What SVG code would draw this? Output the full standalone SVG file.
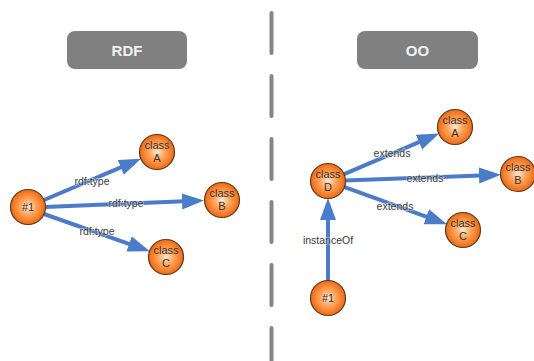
<svg xmlns="http://www.w3.org/2000/svg" width="534" height="361" viewBox="0 0 534 361">
  <defs>
    <radialGradient id="ball" cx="50%" cy="50%" r="50%">
      <stop offset="0" stop-color="#ffe8d0"/>
      <stop offset="0.45" stop-color="#ffa55c"/>
      <stop offset="1" stop-color="#f06810"/>
    </radialGradient>
    <marker id="head" markerUnits="userSpaceOnUse" markerWidth="24" markerHeight="18" refX="2" refY="8" orient="auto">
      <path d="M0,0 L22,8 L0,16 z" fill="#4a7cc9"/>
    </marker>
    <style>
      .title { fill: #808080; }
      .title-text { font-family: "Liberation Sans", Arial, sans-serif; font-size: 15px; fill: #f2f2f2; text-anchor: middle; font-weight: bold; }
      .divider { stroke: #858585; stroke-width: 4; stroke-linecap: round; stroke-dasharray: 40 23; fill: none; }
      .node circle { fill: url(#ball); stroke: #5a3a22; stroke-width: 1.2; }
      .node text { font-family: "Liberation Sans", Arial, sans-serif; font-size: 11px; fill: #333; text-anchor: middle; }
      .edge { stroke: #4a7cc9; stroke-width: 4; fill: none; marker-end: url(#head); }
      .label { font-family: "Liberation Sans", Arial, sans-serif; font-size: 10.5px; fill: #3a3a3a; text-anchor: middle; stroke: #ffffff; stroke-width: 1.5; stroke-opacity: 0.5; paint-order: stroke; }
    </style>
  </defs>

  <rect width="534" height="361" fill="#ffffff"/>

  <!-- vertical separator -->
  <line class="divider" x1="271.5" y1="13" x2="271.5" y2="361"/>

  <!-- section headers -->
  <g id="header-rdf">
    <rect class="title" x="67" y="31" width="120" height="38" rx="8"/>
    <text class="title-text" x="127" y="55.5">RDF</text>
  </g>
  <g id="header-oo">
    <rect class="title" x="357" y="31" width="121" height="38" rx="8"/>
    <text class="title-text" x="417.5" y="55.5">OO</text>
  </g>

  <!-- connectors -->
  <g id="connectors">
    <path class="edge" d="M44,200 L122.6,166.6"/>
    <path class="edge" d="M45,207 L184,201.3"/>
    <path class="edge" d="M44,214 L131,244.6"/>
    <path class="edge" d="M343.6,174.4 L420.8,141.4"/>
    <path class="edge" d="M345,180.4 L481,175.4"/>
    <path class="edge" d="M344,186.8 L428.2,217.4"/>
    <path class="edge" d="M328,280 L328,218"/>
    <text class="label" x="92" y="185">rdf:type</text>
    <text class="label" x="126" y="207">rdf:type</text>
    <text class="label" x="97" y="235">rdf:type</text>
    <text class="label" x="392" y="157">extends</text>
    <text class="label" x="425" y="182">extends</text>
    <text class="label" x="395" y="210">extends</text>
    <text class="label" x="328" y="244">instanceOf</text>
  </g>

  <!-- RDF side nodes -->
  <g id="rdf-instance" class="node">
    <circle cx="28" cy="207" r="17.5"/>
    <text x="28" y="211">#1</text>
  </g>
  <g id="rdf-class-a" class="node">
    <circle cx="157" cy="152" r="17.5"/>
    <text x="157" y="149">class</text>
    <text x="157" y="161.5">A</text>
  </g>
  <g id="rdf-class-b" class="node">
    <circle cx="222" cy="200" r="17.5"/>
    <text x="222" y="197">class</text>
    <text x="222" y="209.5">B</text>
  </g>
  <g id="rdf-class-c" class="node">
    <circle cx="166" cy="257" r="17.5"/>
    <text x="166" y="254">class</text>
    <text x="166" y="266.5">C</text>
  </g>

  <!-- OO side nodes -->
  <g id="oo-class-d" class="node">
    <circle cx="328" cy="181" r="17.5"/>
    <text x="328" y="178">class</text>
    <text x="328" y="190.5">D</text>
  </g>
  <g id="oo-class-a" class="node">
    <circle cx="455" cy="127" r="17.5"/>
    <text x="455" y="124">class</text>
    <text x="455" y="136.5">A</text>
  </g>
  <g id="oo-class-b" class="node">
    <circle cx="518" cy="174" r="17.5"/>
    <text x="518" y="171">class</text>
    <text x="518" y="183.5">B</text>
  </g>
  <g id="oo-class-c" class="node">
    <circle cx="463" cy="230" r="17.5"/>
    <text x="463" y="227">class</text>
    <text x="463" y="239.5">C</text>
  </g>
  <g id="oo-instance" class="node">
    <circle cx="328" cy="298" r="17.5"/>
    <text x="328" y="302">#1</text>
  </g>
</svg>
